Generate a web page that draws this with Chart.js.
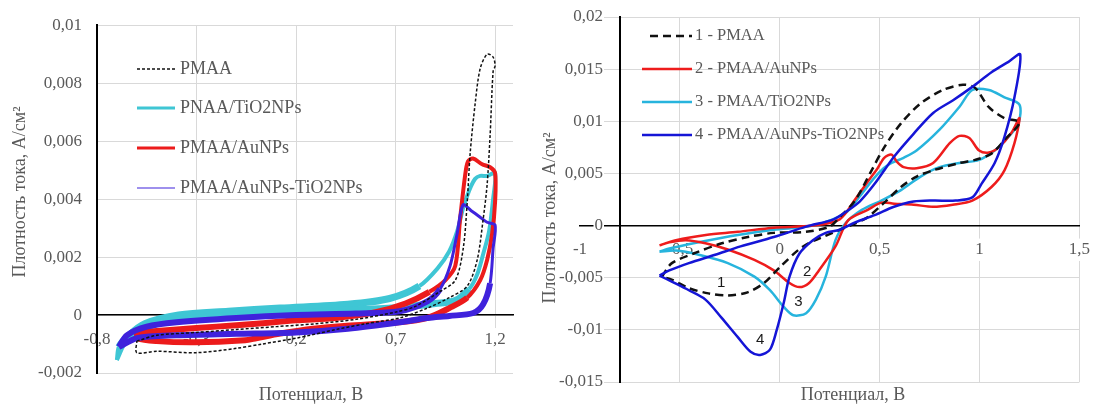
<!DOCTYPE html>
<html>
<head>
<meta charset="utf-8">
<script src="https://cdn.jsdelivr.net/npm/chart.js@4.4.1/dist/chart.umd.min.js"></script>
<style>
  html, body { margin: 0; padding: 0; background: #fff; }
  #wrap { position: relative; width: 1104px; height: 408px; }
  #cvL { position: absolute; left: 0; top: 0; }
  #cvR { position: absolute; left: 540px; top: 0; }
</style>
</head>
<body>
<div id="wrap">
  <canvas id="cvL" width="540" height="408"></canvas>
  <canvas id="cvR" width="564" height="408"></canvas>
</div>
<script>
// Two cyclic voltammograms side by side: current density vs potential.
// Left: noisy CVs of PMAA films, right: smoothed CVs with numbered curves.

const SERIF = '"Liberation Serif", "Times New Roman", serif';
const SANS = '"Liberation Sans", Arial, sans-serif';
const X_TITLE = 'Потенциал, В';
const Y_TITLE = 'Плотность тока, А/см²';

// ---- left panel ----
const L_LABELS = ['PMAA', 'PNAA/TiO2NPs', 'PMAA/AuNPs', 'PMAA/AuNPs-TiO2NPs'];
const L_X_TICKS = [-0.8, -0.3, 0.2, 0.7, 1.2];
const L_Y_TICKS = [-0.002, 0, 0.002, 0.004, 0.006, 0.008, 0.01];

const L_PMAA_V = [-0.6, -0.5, -0.3, -0.1, 0.1, 0.3, 0.5, 0.7, 0.8, 0.92, 1.0, 1.04, 1.06, 1.075, 1.1, 1.125, 1.16, 1.19, 1.2,
                  1.19, 1.175, 1.16, 1.14, 1.11, 1.06, 0.97, 0.86, 0.72, 0.55, 0.4, 0.2, 0.03, -0.1, -0.3, -0.5, -0.6, -0.6];
const L_PMAA_I = [-0.0009, -0.0007, -0.0006, -0.0005, -0.0004, -0.0003, -0.00015, 0.0001, 0.0003, 0.0008, 0.0012, 0.0023, 0.0039, 0.0056, 0.0073, 0.0085, 0.009, 0.0089, 0.0086,
                  0.0084, 0.0062, 0.0045, 0.0033, 0.0019, 0.001, 0.0006, 0.00024, -0.0001, -0.0003, -0.0005, -0.0008, -0.001, -0.00115, -0.0013, -0.00125, -0.0013, -0.0009];

const L_TIO2_V = [-0.7, -0.69, -0.64, -0.56, -0.39, -0.14, 0.12, 0.46, 0.67, 0.82, 0.91, 0.97, 1.01, 1.04, 1.07, 1.1, 1.125, 1.16, 1.2,
                  1.19, 1.17, 1.14, 1.11, 1.07, 1.0, 0.9, 0.7, 0.4, 0.1, -0.2, -0.5, -0.65, -0.7];
const L_TIO2_I = [-0.00155, -0.0011, -0.0007, -0.0003, 0.0, 0.00013, 0.00024, 0.00037, 0.00057, 0.001, 0.0016, 0.0022, 0.0029, 0.0037, 0.0043, 0.0047, 0.0048, 0.0048, 0.0049,
                  0.004, 0.0029, 0.0021, 0.0014, 0.0009, 0.0005, 0.0004, 0.00025, 0.00015, 0.00005, -0.00005, -0.0003, -0.0009, -0.00155];

const L_AU_V = [-0.6, -0.4, -0.2, 0, 0.2, 0.4, 0.6, 0.75, 0.87, 0.95, 1.0, 1.024, 1.049, 1.064, 1.089, 1.135, 1.175, 1.2,
                1.2, 1.185, 1.16, 1.125, 1.06, 0.97, 0.86, 0.72, 0.456, 0.285, 0.12, 0.0, -0.056, -0.307, -0.5, -0.594, -0.6];
const L_AU_I = [-0.0006, -0.0005, -0.0004, -0.0003, -0.00018, -0.0001, 0.0001, 0.0004, 0.0008, 0.0012, 0.0017, 0.0033, 0.0048, 0.0053, 0.0054, 0.0052, 0.0051, 0.0049,
                0.0039, 0.0028, 0.0019, 0.0012, 0.0006, 0.00024, -0.0001, -0.00025, -0.00037, -0.00047, -0.00064, -0.0008, -0.00087, -0.00094, -0.0009, -0.0008, -0.0006];

const L_AUTI_V = [-0.69, -0.65, -0.55, -0.4, -0.1, 0.2, 0.5, 0.72, 0.86, 0.924, 0.974, 1.009, 1.039, 1.08, 1.12, 1.16, 1.2,
                  1.19, 1.175, 1.14, 1.09, 0.97, 0.86, 0.72, 0.46, 0.2, -0.1, -0.4, -0.6, -0.69];
const L_AUTI_I = [-0.0011, -0.0007, -0.0004, -0.00025, -0.0001, 0.0, 0.00005, 0.00013, 0.00047, 0.0009, 0.0017, 0.0028, 0.0038, 0.0036, 0.0034, 0.0032, 0.0031,
                  0.0023, 0.0011, 0.00037, 0.00007, -0.00003, -0.0001, -0.00025, -0.00047, -0.0006, -0.00065, -0.0007, -0.0008, -0.0011];

// ---- right panel ----
const R_LABELS = ['1 - PMAA', '2 - PMAA/AuNPs', '3 - PMAA/TiO2NPs', '4 - PMAA/AuNPs-TiO2NPs'];
const R_X_TICKS = [-1, -0.5, 0, 0.5, 1, 1.5];
const R_Y_TICKS = [-0.015, -0.01, -0.005, 0, 0.005, 0.01, 0.015, 0.02];

const R_PMAA_V = [-0.59, -0.54, -0.42, -0.29, -0.16, -0.03, 0.13, 0.25, 0.3, 0.377, 0.46, 0.523, 0.607, 0.705, 0.817, 0.917, 0.978, 1.047, 1.125, 1.2,
                  1.125, 1.06, 0.978, 0.9, 0.768, 0.685, 0.607, 0.523, 0.44, 0.377, 0.264, 0.117, 0.0, -0.078, -0.161, -0.26, -0.357, -0.455, -0.538, -0.59];
const R_PMAA_I = [-0.0049, -0.0036, -0.0026, -0.0017, -0.0011, -0.0007, -0.0006, -0.0001, 0.0008, 0.0024, 0.0053, 0.0075, 0.0098, 0.0117, 0.013, 0.0135, 0.0132, 0.01135, 0.0103, 0.0099,
                  0.0082, 0.0069, 0.0063, 0.006, 0.0053, 0.0047, 0.0037, 0.0022, 0.0008, 0.0002, -0.0007, -0.002, -0.004, -0.0055, -0.0064, -0.0067, -0.0065, -0.006, -0.0052, -0.0049];

const R_AU_V = [-0.602, -0.52, -0.37, -0.21, -0.03, 0.166, 0.3, 0.377, 0.44, 0.49, 0.523, 0.56, 0.587, 0.62, 0.685, 0.768, 0.851, 0.9, 0.949, 0.998, 1.047, 1.096, 1.16, 1.2,
                1.175, 1.125, 1.06, 0.964, 0.866, 0.768, 0.67, 0.572, 0.509, 0.44, 0.342, 0.279, 0.196, 0.147, 0.098, 0.049, -0.03, -0.127, -0.26, -0.372, -0.47, -0.553, -0.602];
const R_AU_I = [-0.0019, -0.0014, -0.0009, -0.0006, -0.0002, 0.0, 0.0006, 0.0025, 0.0042, 0.0055, 0.0065, 0.0068, 0.0061, 0.0056, 0.0055, 0.006, 0.0079, 0.0086, 0.0084, 0.0072, 0.007, 0.0075, 0.0089, 0.0103,
                0.0079, 0.0053, 0.0037, 0.0024, 0.002, 0.0018, 0.002, 0.0021, 0.0022, 0.0015, 0.0005, -0.002, -0.0043, -0.0055, -0.0059, -0.0055, -0.0043, -0.0033, -0.0023, -0.0017, -0.0014, -0.0016, -0.0019];

const R_TIO2_V = [-0.602, -0.553, -0.406, -0.21, -0.03, 0.166, 0.328, 0.4, 0.47, 0.52, 0.56, 0.62, 0.685, 0.8, 0.9, 0.964, 1.047, 1.125, 1.2, 1.195,
                  1.145, 1.076, 0.998, 0.9, 0.8, 0.705, 0.607, 0.509, 0.411, 0.328, 0.279, 0.23, 0.181, 0.132, 0.068, 0.02, -0.049, -0.127, -0.26, -0.406, -0.518, -0.602];
const R_TIO2_I = [-0.0025, -0.0022, -0.0016, -0.0009, -0.0004, 0.0, 0.0012, 0.0028, 0.0045, 0.0055, 0.006, 0.0065, 0.0072, 0.0092, 0.0114, 0.013, 0.013, 0.0123, 0.0116, 0.0098,
                  0.0085, 0.0072, 0.0063, 0.006, 0.0056, 0.0047, 0.0034, 0.0024, 0.0015, 0.0002, -0.0014, -0.0049, -0.0071, -0.0084, -0.0086, -0.0078, -0.0062, -0.0049, -0.0036, -0.0028, -0.0024, -0.0025];

const R_AUTI_V = [-0.602, -0.553, -0.455, -0.323, -0.196, -0.03, 0.132, 0.27, 0.33, 0.4, 0.475, 0.572, 0.67, 0.768, 0.866, 0.964, 1.06, 1.145, 1.204,
                  1.175, 1.125, 1.076, 1.01, 0.964, 0.88, 0.768, 0.67, 0.572, 0.475, 0.377, 0.3, 0.23, 0.166, 0.098, 0.049, 0.02, -0.015, -0.049, -0.098, -0.146, -0.21, -0.293, -0.372, -0.455, -0.538, -0.602];
const R_AUTI_I = [-0.0048, -0.0043, -0.0036, -0.0028, -0.002, -0.0011, -0.0001, 0.0006, 0.0013, 0.0023, 0.004, 0.0066, 0.0088, 0.0108, 0.012, 0.0133, 0.0147, 0.0157, 0.0164,
                  0.0123, 0.0085, 0.006, 0.004, 0.0027, 0.0024, 0.0024, 0.0023, 0.0018, 0.001, 0.0003, -0.0004, -0.0007, -0.0014, -0.0027, -0.0049, -0.0074, -0.01, -0.0119, -0.0124, -0.0121, -0.0107, -0.0088, -0.0071, -0.0062, -0.0054, -0.0048];

// curve numbers written next to the cathodic peaks
const R_NUM_TEXT = ['1', '2', '3', '4'];
const R_NUM_V = [-0.293, 0.137, 0.093, -0.098];
const R_NUM_I = [-0.0055, -0.0044, -0.0073, -0.011];

function pts(v, i) { return v.map((x, k) => ({ x: x, y: i[k] })); }
function fmt(v) { return String(v).replace('.', ','); }

const TICK_SIZE = 17;

// width of the widest tick label, needed to right-align mirrored y labels
function widestLabel(values) {
  const c = document.createElement('canvas').getContext('2d');
  c.font = TICK_SIZE + 'px ' + SERIF;
  return Math.max.apply(null, values.map(v => c.measureText(fmt(v)).width));
}

// noisy low-current part of the left curves looks like a thick band
function bandWidth(base, band) {
  return c => (Math.abs(c.p0.parsed.y) < 0.0012 && Math.abs(c.p1.parsed.y) < 0.0012 ? band : base);
}

// axis titles drawn on the canvas
const titlesPlugin = {
  id: 'axisTitles',
  afterDraw(chart, args, o) {
    const ctx = chart.ctx;
    ctx.save();
    ctx.fillStyle = '#595959';
    ctx.font = o.size + 'px ' + SERIF;
    ctx.textAlign = 'center';
    ctx.textBaseline = 'middle';
    ctx.fillText(X_TITLE, o.xAt[0], o.xAt[1]);
    ctx.translate(o.yAt[0], o.yAt[1]);
    ctx.rotate(-Math.PI / 2);
    ctx.fillText(Y_TITLE, 0, 0);
    ctx.restore();
  }
};

// legend inside the plot, Excel style
const legendPlugin = {
  id: 'innerLegend',
  afterDraw(chart, args, o) {
    const ctx = chart.ctx;
    ctx.save();
    ctx.font = o.size + 'px ' + SERIF;
    ctx.textBaseline = 'middle';
    ctx.textAlign = 'left';
    chart.data.datasets.forEach((ds, k) => {
      const y = o.rows[k];
      ctx.strokeStyle = ds.borderColor;
      ctx.lineWidth = o.widths[k];
      ctx.setLineDash(ds.borderDash || []);
      ctx.beginPath();
      ctx.moveTo(o.x0[k], y);
      ctx.lineTo(o.x1, y);
      ctx.stroke();
      ctx.setLineDash([]);
      ctx.fillStyle = '#595959';
      ctx.fillText(ds.label, o.textX, y);
    });
    ctx.restore();
  }
};

// numbers next to curves (right panel)
const numbersPlugin = {
  id: 'curveNumbers',
  afterDatasetsDraw(chart, args, o) {
    if (!o.show) return;
    const { ctx, scales } = chart;
    ctx.save();
    ctx.font = '15px ' + SANS;
    ctx.fillStyle = '#1a1a1a';
    ctx.textAlign = 'center';
    ctx.textBaseline = 'middle';
    R_NUM_TEXT.forEach((t, k) => {
      ctx.fillText(t, scales.x.getPixelForValue(R_NUM_V[k]), scales.y.getPixelForValue(R_NUM_I[k]));
    });
    ctx.restore();
  }
};

function tickFont() { return { family: SERIF, size: TICK_SIZE }; }

function makeChart(id, p) {
  // y labels: right edge sits p.labelRight px from the canvas left
  const mirrored = p.labelRight > p.yWidth;
  const yPad = mirrored ? p.labelRight - p.yWidth - widestLabel(p.yTicks) : p.yWidth - p.labelRight;
  const scales = {
    x: {
      type: 'linear', position: { y: 0 }, min: p.xMin, max: p.xMax,
      afterBuildTicks: s => { s.ticks = p.xTicks.map(v => ({ value: v })); },
      grid: { color: c => (c.tick && c.tick.value === p.hideGridAt ? 'rgba(0,0,0,0)' : '#d9d9d9'), lineWidth: 1, drawTicks: false },
      border: { color: '#000', width: 1.5 },
      ticks: { autoSkip: false, maxRotation: 0, padding: 14, color: '#595959', font: tickFont(), callback: fmt,
               showLabelBackdrop: true, backdropColor: '#fff', backdropPadding: 1 }
    },
    y: {
      type: 'linear', position: 'left', min: p.yMin, max: p.yMax,
      afterBuildTicks: s => { s.ticks = p.yTicks.map(v => ({ value: v })); },
      afterFit: s => { s.width = p.yWidth; },
      grid: { color: '#d9d9d9', lineWidth: 1, drawTicks: false },
      border: { display: false },
      ticks: { autoSkip: false, mirror: mirrored, crossAlign: mirrored ? 'far' : 'near', padding: yPad,
               color: '#595959', font: tickFont(), callback: fmt,
               showLabelBackdrop: true, backdropColor: '#fff', backdropPadding: 1 }
    },
    yLine: {
      type: 'linear', position: { x: p.yCross }, min: p.yMin, max: p.yMax,
      grid: { display: false }, ticks: { display: false },
      border: { color: '#000', width: 2 }
    }
  };
  return new Chart(document.getElementById(id), {
    type: 'line',
    data: { datasets: p.datasets },
    options: {
      responsive: false,
      animation: false,
      layout: { padding: p.padding },
      elements: { point: { radius: 0 }, line: { tension: 0.3, fill: false } },
      plugins: {
        legend: { display: false },
        tooltip: { enabled: false },
        axisTitles: p.titles,
        innerLegend: p.legend,
        curveNumbers: { show: !!p.numbers }
      },
      scales: scales
    },
    plugins: [titlesPlugin, legendPlugin, numbersPlugin]
  });
}

makeChart('cvL', {
  xMin: -0.8, xMax: 1.29, xTicks: L_X_TICKS, hideGridAt: null,
  yMin: -0.002, yMax: 0.01, yTicks: L_Y_TICKS, yWidth: 97, labelRight: 82, yCross: -0.8,
  padding: { left: 0, right: 27, top: 17, bottom: 35 },
  titles: { size: 18, xAt: [311, 395], yAt: [20, 192] },
  legend: { size: 18, rows: [69, 108, 148, 188], x0: [137, 137, 137, 137], x1: 175, textX: 180, widths: [1.3, 3, 3, 1.2] },
  datasets: [
    { label: L_LABELS[0], data: pts(L_PMAA_V, L_PMAA_I), borderColor: '#111', borderWidth: 1.5, borderDash: [3, 2], order: 0 },
    { label: L_LABELS[1], data: pts(L_TIO2_V, L_TIO2_I), borderColor: '#3fc6d4', borderWidth: 4, order: 3,
      segment: { borderWidth: bandWidth(4, 7) } },
    { label: L_LABELS[2], data: pts(L_AU_V, L_AU_I), borderColor: '#ec1b1b', borderWidth: 4, order: 2,
      segment: { borderWidth: bandWidth(4, 6) } },
    { label: L_LABELS[3], data: pts(L_AUTI_V, L_AUTI_I), borderColor: '#3f22dc', borderWidth: 3, order: 1,
      segment: { borderWidth: bandWidth(3, 6) } }
  ]
});

makeChart('cvR', {
  xMin: -1, xMax: 1.5, xTicks: R_X_TICKS, hideGridAt: -1,
  yMin: -0.015, yMax: 0.02, yTicks: R_Y_TICKS, yWidth: 40, labelRight: 63, yCross: -0.8,
  padding: { left: 0, right: 12, top: 17, bottom: 26 },
  titles: { size: 18, xAt: [313, 395], yAt: [10, 218] },
  legend: { size: 16.5, rows: [36, 69, 102, 135], x0: [110, 102, 102, 102], x1: 152, textX: 155, widths: [2.5, 2.5, 2.5, 2.5] },
  numbers: true,
  datasets: [
    { label: R_LABELS[0], data: pts(R_PMAA_V, R_PMAA_I), borderColor: '#111', borderWidth: 2.5, borderDash: [8, 5], order: 1 },
    { label: R_LABELS[1], data: pts(R_AU_V, R_AU_I), borderColor: '#ee1c1c', borderWidth: 2.5, order: 2 },
    { label: R_LABELS[2], data: pts(R_TIO2_V, R_TIO2_I), borderColor: '#27b4dd', borderWidth: 2.5, order: 3 },
    { label: R_LABELS[3], data: pts(R_AUTI_V, R_AUTI_I), borderColor: '#1515d6', borderWidth: 2.5, order: 0 }
  ]
});
</script>
</body>
</html>
